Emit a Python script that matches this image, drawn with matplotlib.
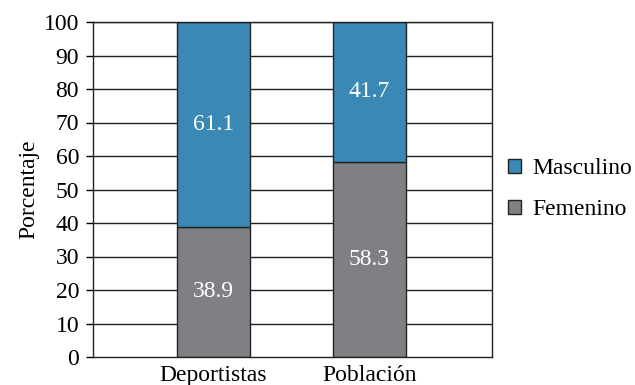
import matplotlib
matplotlib.use("Agg")
import matplotlib.pyplot as plt
import numpy as np

categories = ["Deportistas", "Población"]
femenino = [38.9, 58.3]
masculino = [61.1, 41.7]
yticks = list(range(0, 101, 10))

plt.rcParams["font.family"] = ["Liberation Serif", "DejaVu Serif"]

fig = plt.figure(figsize=(6.35, 3.85), dpi=100)
ax = fig.add_axes([93 / 635, 1 - 357 / 385, 399 / 635, 335 / 385])

x = np.arange(len(categories))
w = 0.47
blue = "#3a89b5"
gray = "#7f8084"
fs = 17

for yv in yticks[1:]:
    ax.axhline(yv, color="#222222", lw=1.0, zorder=1)

b1 = ax.bar(x, femenino, w, color=gray, edgecolor="#222222", lw=1.0, zorder=2, label="Femenino")
b2 = ax.bar(x, masculino, w, bottom=femenino, color=blue, edgecolor="#222222", lw=1.0,
            zorder=2, label="Masculino")

for xi, f, m in zip(x, femenino, masculino):
    ax.text(xi, f / 2, f"{f:.1f}", ha="center", va="center", color="white", fontsize=fs, zorder=3)
    ax.text(xi, f + m / 2, f"{m:.1f}", ha="center", va="center", color="white", fontsize=fs, zorder=3)

ax.set_xlim(-0.775, 1.79)
ax.set_ylim(0, 100)
ax.set_yticks(yticks)
ax.set_xticks(x)
ax.set_xticklabels(categories)
ax.tick_params(axis="y", length=5, width=1.0, labelsize=fs, pad=5)
ax.tick_params(axis="x", length=0, labelsize=fs, pad=6)
for s in ax.spines.values():
    s.set_color("#222222")
    s.set_linewidth(1.0)
ax.set_ylabel("Porcentaje", fontsize=fs, labelpad=3)

handles = [b2, b1]
fig.legend(handles, ["Masculino", "Femenino"], loc="center left", bbox_to_anchor=(487 / 635, 1 - 189 / 385),
           frameon=False, fontsize=fs, handlelength=0.55, handleheight=0.55, handletextpad=0.45,
           labelspacing=0.85)

fig.savefig("out.png", dpi=100)
